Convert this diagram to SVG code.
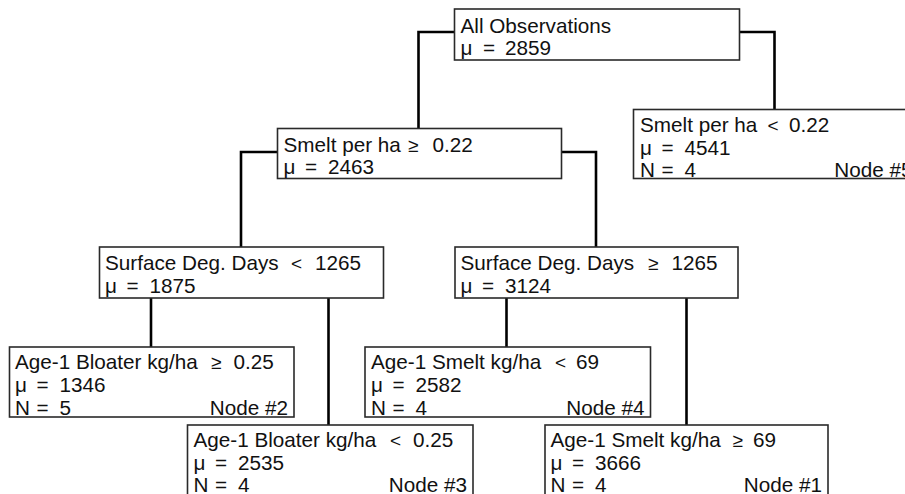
<svg xmlns="http://www.w3.org/2000/svg" width="905" height="494" viewBox="0 0 905 494">
<style>
.box{fill:#fff;stroke:#2a2a2a;stroke-width:1.6}
.t{font-family:"Liberation Sans",Arial,sans-serif;font-size:20.7px;fill:#111}
.s{font-size:19px}
.e{text-anchor:end}
.c{fill:none;stroke:#000;stroke-width:2.6;stroke-linejoin:miter}
</style>
<rect width="905" height="494" fill="#fff"/>
<g id="connectors">
<path class="c" d="M454.5,32 H418.5 V128.5"/>
<path class="c" d="M739.5,32 H774.5 V109.5"/>
<path class="c" d="M277.5,152 H241 V247"/>
<path class="c" d="M561.5,152 H596 V247"/>
<path class="c" d="M151,298 V347"/>
<path class="c" d="M328.5,298 V425"/>
<path class="c" d="M506.5,298 V347"/>
<path class="c" d="M686.5,298 V425"/>
</g>
<g id="root">
<rect class="box" x="454.5" y="9" width="285" height="51"/>
<text class="t" x="460.5" y="33">All Observations</text>
<text class="t" y="55"><tspan x="460.5">μ</tspan><tspan x="483">=</tspan><tspan x="505">2859</tspan></text>
</g>
<g id="node5">
<rect class="box" x="633.5" y="109.5" width="285" height="69"/>
<text class="t" y="131.5"><tspan x="640">Smelt per ha</tspan><tspan class="s" x="767.5">&lt;</tspan><tspan x="789">0.22</tspan></text>
<text class="t" y="154.5"><tspan x="640">μ</tspan><tspan x="661.5">=</tspan><tspan x="684.5">4541</tspan></text>
<text class="t" y="177"><tspan x="640">N</tspan><tspan x="661.5">=</tspan><tspan x="684.5">4</tspan></text>
<text class="t e" x="912.5" y="177">Node #5</text>
</g>
<g id="smelt-ge">
<rect class="box" x="277.5" y="128.5" width="284" height="50"/>
<text class="t" y="152"><tspan x="283.5">Smelt per ha</tspan><tspan class="s" x="408">≥</tspan><tspan x="432.5">0.22</tspan></text>
<text class="t" y="174"><tspan x="283.5">μ</tspan><tspan x="305">=</tspan><tspan x="328">2463</tspan></text>
</g>
<g id="sdd-lt">
<rect class="box" x="99.5" y="247" width="284" height="51"/>
<text class="t" y="270"><tspan x="105">Surface Deg. Days</tspan><tspan class="s" x="291">&lt;</tspan><tspan x="315">1265</tspan></text>
<text class="t" y="293"><tspan x="105">μ</tspan><tspan x="126.5">=</tspan><tspan x="149.5">1875</tspan></text>
</g>
<g id="sdd-ge">
<rect class="box" x="455" y="247" width="283" height="51"/>
<text class="t" y="270"><tspan x="460.5">Surface Deg. Days</tspan><tspan class="s" x="648">≥</tspan><tspan x="671.5">1265</tspan></text>
<text class="t" y="293"><tspan x="460.5">μ</tspan><tspan x="482">=</tspan><tspan x="505">3124</tspan></text>
</g>
<g id="node2">
<rect class="box" x="9.5" y="347" width="284.5" height="70"/>
<text class="t" y="368.5"><tspan x="15">Age-1 Bloater kg/ha</tspan><tspan class="s" x="211">≥</tspan><tspan x="233.5">0.25</tspan></text>
<text class="t" y="392"><tspan x="15">μ</tspan><tspan x="36.5">=</tspan><tspan x="59.5">1346</tspan></text>
<text class="t" y="414.5"><tspan x="15">N</tspan><tspan x="36.5">=</tspan><tspan x="59.5">5</tspan></text>
<text class="t e" x="288" y="414.5">Node #2</text>
</g>
<g id="node4">
<rect class="box" x="365" y="347" width="285.5" height="70"/>
<text class="t" y="368.5"><tspan x="371">Age-1 Smelt kg/ha</tspan><tspan class="s" x="555">&lt;</tspan><tspan x="576">69</tspan></text>
<text class="t" y="392"><tspan x="371">μ</tspan><tspan x="392.5">=</tspan><tspan x="415.5">2582</tspan></text>
<text class="t" y="414.5"><tspan x="371">N</tspan><tspan x="392.5">=</tspan><tspan x="415.5">4</tspan></text>
<text class="t e" x="644.5" y="414.5">Node #4</text>
</g>
<g id="node3">
<rect class="box" x="187.5" y="425" width="285.5" height="70"/>
<text class="t" y="446.5"><tspan x="193.5">Age-1 Bloater kg/ha</tspan><tspan class="s" x="390">&lt;</tspan><tspan x="413">0.25</tspan></text>
<text class="t" y="469.5"><tspan x="193.5">μ</tspan><tspan x="215">=</tspan><tspan x="238">2535</tspan></text>
<text class="t" y="491.5"><tspan x="193.5">N</tspan><tspan x="215">=</tspan><tspan x="238">4</tspan></text>
<text class="t e" x="467" y="491.5">Node #3</text>
</g>
<g id="node1">
<rect class="box" x="545" y="425" width="283" height="70"/>
<text class="t" y="446.5"><tspan x="550.5">Age-1 Smelt kg/ha</tspan><tspan class="s" x="732.5">≥</tspan><tspan x="753">69</tspan></text>
<text class="t" y="469.5"><tspan x="550.5">μ</tspan><tspan x="572">=</tspan><tspan x="595">3666</tspan></text>
<text class="t" y="491.5"><tspan x="550.5">N</tspan><tspan x="572">=</tspan><tspan x="595">4</tspan></text>
<text class="t e" x="822" y="491.5">Node #1</text>
</g>
</svg>
